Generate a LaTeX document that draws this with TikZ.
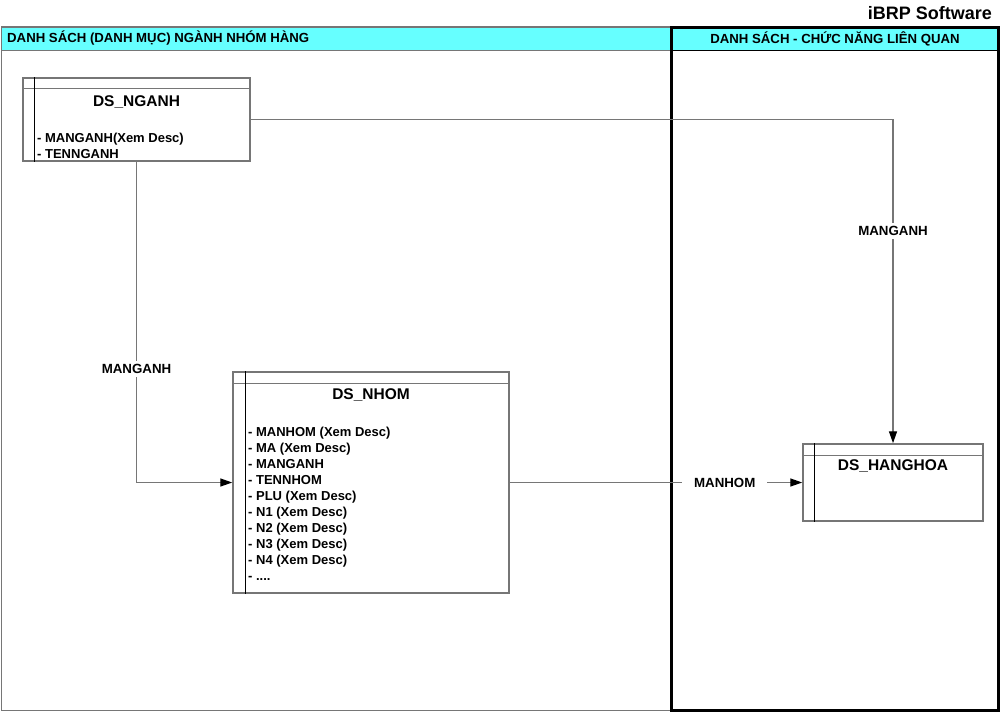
\documentclass[tikz,border=0pt]{standalone}
\usepackage{fontspec}
\setmainfont{Liberation Sans}
\usetikzlibrary{arrows.meta}
\definecolor{hdrcyan}{RGB}{102,255,255}
\definecolor{linegray}{RGB}{118,118,118}
\tikzset{
  tbl/.style={draw=linegray, line width=1.5pt, inner sep=0pt, fill=white},
  tbltitle/.style={font=\fontsize{15.5}{18}\selectfont\bfseries, anchor=north, inner sep=0pt},
  attr/.style={font=\fontsize{13}{16}\selectfont\bfseries, align=left, anchor=west, inner sep=0pt},
  hdr/.style={font=\fontsize{13.2}{16}\selectfont\bfseries, inner sep=0pt},
  lbl/.style={font=\fontsize{13.3}{16}\selectfont\bfseries, fill=white, inner sep=3pt},
  conn/.style={draw=linegray, line width=1.4pt, -{Triangle[length=12pt,width=8pt,black]}}
}
\begin{document}
\begin{tikzpicture}[x=1pt,y=1pt]
	\useasboundingbox (0,0) rectangle (1001,-713);
	% panels
	\draw [linegray, line width=1.5pt, fill=white] (1.5,-27) rectangle (671,-710.5);
	\draw [linegray, line width=1.5pt, fill=hdrcyan] (1.5,-27) rectangle (671,-50.5);
	\draw [black, line width=1.5pt, fill=hdrcyan] (671,-27) rectangle (999,-50.5);
	\draw [black, line width=3pt] (671.5,-27.5) rectangle (998.5,-710.5);
	\node [hdr, anchor=west] (hdrleft) at (7,-38.5) {DANH SÁCH (DANH MỤC) NGÀNH NHÓM HÀNG};
	\node [hdr] (hdrright) at (835,-38.5) {DANH SÁCH - CHỨC NĂNG LIÊN QUAN};
	\node [font=\fontsize{18}{20}\selectfont\bfseries, anchor=east, inner sep=0pt] (brand) at (992,-13) {iBRP Software};
	% tables
	\node [tbl, minimum width=227, minimum height=83] (nganh) at (136.5,-119.5) {};
	\draw [linegray, line width=1.5pt] ([yshift=-11]nganh.north west) -- ([yshift=-11]nganh.north east);
	\draw [black, line width=0.9pt] ([xshift=12]nganh.north west) -- ([xshift=12]nganh.south west);
	\node [tbltitle] (nganhtitle) at ([yshift=-18]nganh.north) {DS\_NGANH};
	\node [attr] (nganhattr) at (37,-146) {- MANGANH(Xem Desc)\\- TENNGANH};
	\node [tbl, minimum width=276, minimum height=221] (nhom) at (371,-482.5) {};
	\draw [linegray, line width=1.5pt] ([yshift=-12]nhom.north west) -- ([yshift=-12]nhom.north east);
	\draw [black, line width=0.9pt] ([xshift=13]nhom.north west) -- ([xshift=13]nhom.south west);
	\node [tbltitle] (nhomtitle) at ([yshift=-17.5]nhom.north) {DS\_NHOM};
	\node [attr] (nhomattr) at (248,-504) {- MANHOM (Xem Desc)\\- MA (Xem Desc)\\- MANGANH\\- TENNHOM\\- PLU (Xem Desc)\\- N1 (Xem Desc)\\- N2 (Xem Desc)\\- N3 (Xem Desc)\\- N4 (Xem Desc)\\- ....};
	\node [tbl, minimum width=180, minimum height=77] (hang) at (893,-482.5) {};
	\draw [linegray, line width=1.5pt] ([yshift=-12]hang.north west) -- ([yshift=-12]hang.north east);
	\draw [black, line width=0.9pt] ([xshift=12]hang.north west) -- ([xshift=12]hang.south west);
	\node [tbltitle] (hangtitle) at ([yshift=-16.5]hang.north) {DS\_HANGHOA};
	% connectors
	\draw [conn] (nganh.east) -| (hang.north) node [lbl, pos=0.672] (lblnganh1) {MANGANH};
	\draw [conn] (nganh.south) |- (nhom.west) node [lbl, pos=0.323] (lblnganh2) {MANGANH};
	\draw [conn] (nhom.east) -- (hang.west) node [lbl, pos=0.735, inner xsep=12pt] (lblnhom) {MANHOM};
\end{tikzpicture}
\end{document}
